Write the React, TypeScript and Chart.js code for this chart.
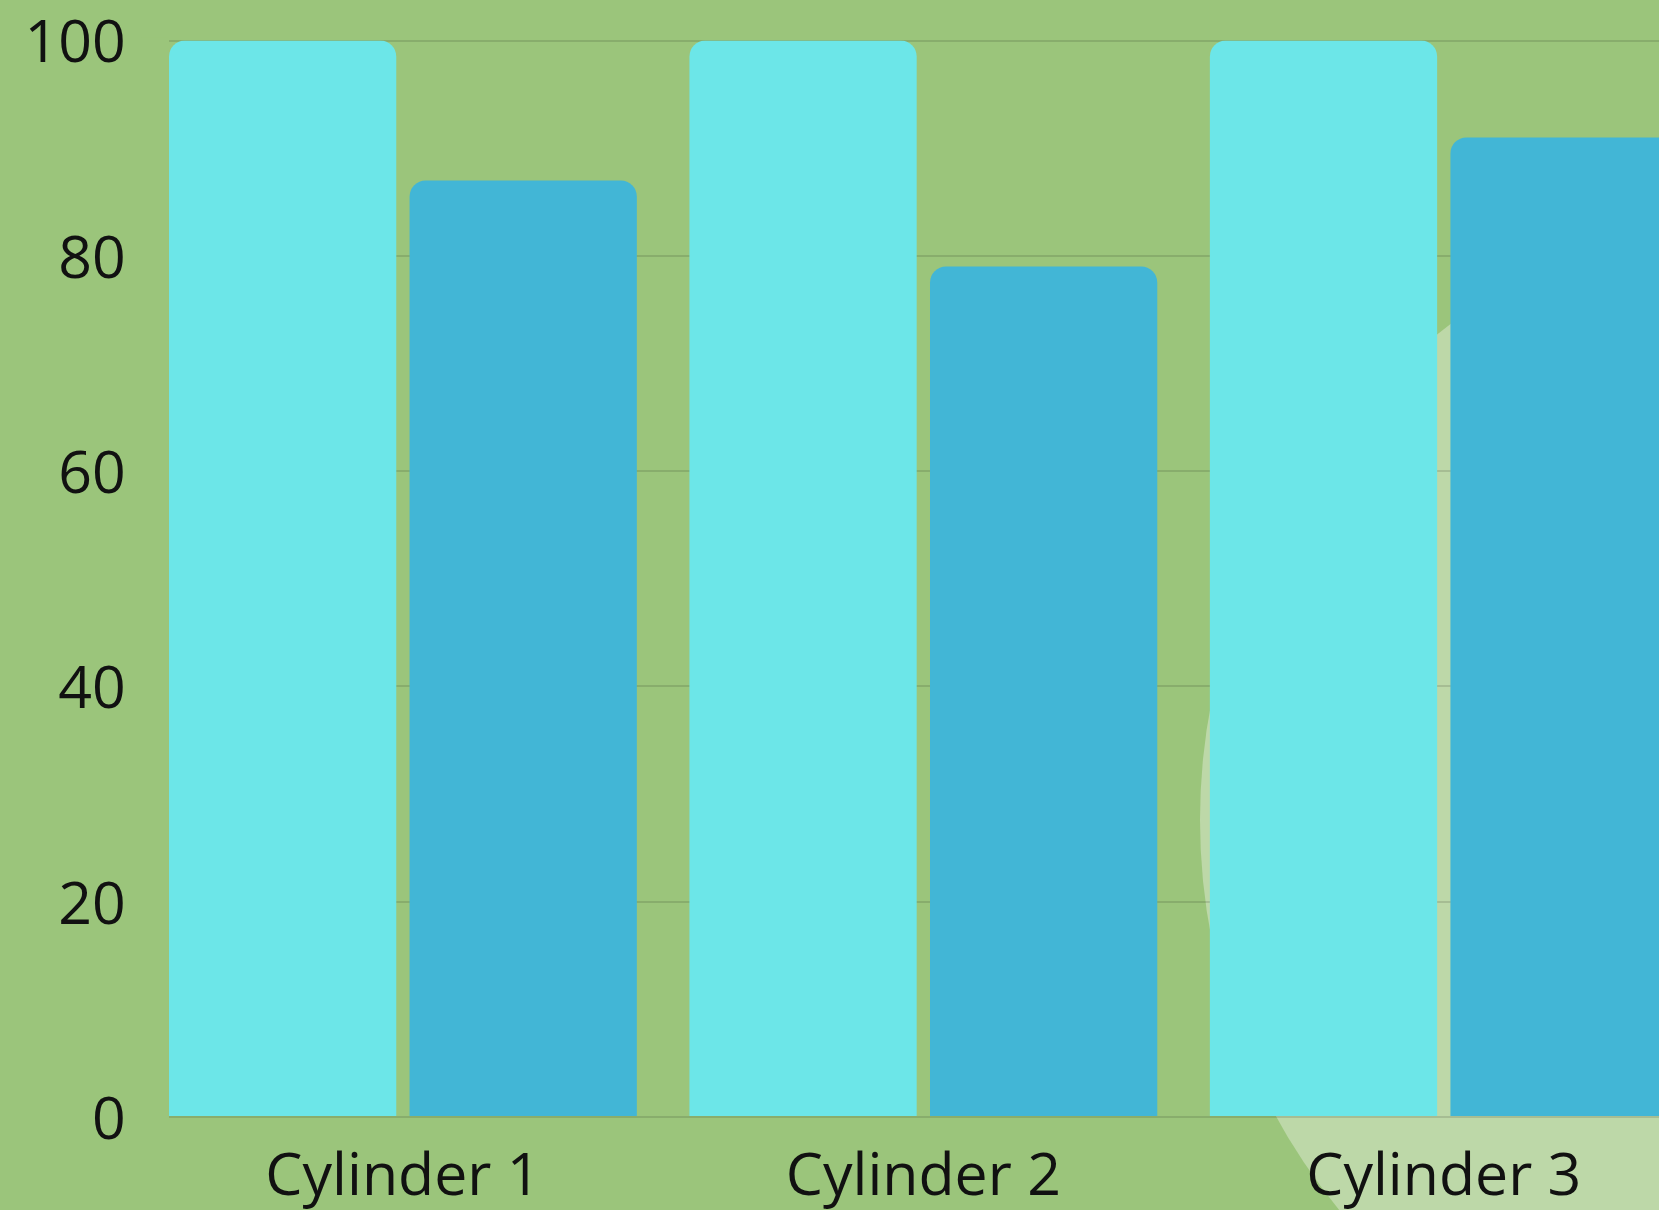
import React, { useEffect, useRef } from "react";
import { Chart, registerables } from "chart.js";

Chart.register(...registerables);

const categories = ["Cylinder 1", "Cylinder 2", "Cylinder 3"];
const capacityValues = [100, 100, 100];
const levelValues = [87, 79, 91];
const yTickValues = [0, 20, 40, 60, 80, 100];

const BG = "#9BC57B";
const CIRCLE = "#BDD8A8";
const CYAN = "#6CE6E8";
const BLUE = "#42B6D6";
const TEXT = "#111111";
const GRID = "rgba(0,0,0,0.12)";

export default function App() {
  const ref = useRef<HTMLCanvasElement>(null);

  useEffect(() => {
    const canvas = ref.current;
    if (!canvas) return;

    const leftStrip = {
      id: "leftStrip",
      beforeDatasetsDraw(chart: any) {
        const meta = chart.getDatasetMeta(0);
        const bar = meta && meta.data && meta.data[0];
        if (!bar) return;
        const p = bar.getProps(["x", "width"], true);
        const barLeft = p.x - p.width / 2;
        const { left, top, bottom } = chart.chartArea;
        const c = chart.ctx;
        c.save();
        c.fillStyle = BG;
        c.fillRect(left - 1, top - 3, barLeft - left + 1, bottom - top + 6);
        c.restore();
      },
    };

    const font = { family: "'Open Sans', sans-serif", size: 59 };

    const chart = new Chart(canvas, {
      type: "bar",
      data: {
        labels: categories,
        datasets: [
          {
            label: "Capacity",
            data: capacityValues,
            backgroundColor: CYAN,
            borderRadius: 16,
            borderWidth: 0,
          },
          {
            label: "Level",
            data: levelValues,
            backgroundColor: BLUE,
            borderRadius: 16,
            borderWidth: 0,
          },
        ],
      },
      options: {
        responsive: false,
        animation: false,
        devicePixelRatio: 1,
        layout: { padding: { top: 40.5, left: 0, right: 0, bottom: 0 } },
        plugins: {
          legend: { display: false },
          tooltip: { enabled: false },
        },
        datasets: {
          bar: { categoryPercentage: 0.9245, barPercentage: 0.9447 },
        },
        scales: {
          x: {
            grid: { display: false },
            border: { display: false },
            ticks: { font, color: TEXT, padding: 18, maxRotation: 0 },
            afterFit(scale: any) {
              scale.height = 93;
              scale.paddingLeft = 0;
              scale.paddingRight = 0;
            },
          },
          y: {
            min: 0,
            max: 100,
            grid: { color: GRID, lineWidth: 2, drawTicks: false },
            border: { display: false },
            ticks: { font, color: TEXT, padding: 17, labelOffset: 5 },
            afterBuildTicks(scale: any) {
              scale.ticks = yTickValues.map((v) => ({ value: v }));
            },
            afterFit(scale: any) {
              scale.width = 142.7;
              scale.paddingTop = 0;
              scale.paddingBottom = 0;
            },
          },
        },
      } as any,
      plugins: [leftStrip],
    });

    return () => chart.destroy();
  }, []);

  return (
    <div
      style={{
        position: "fixed",
        left: 0,
        top: 0,
        width: 1659,
        height: 1210,
        overflow: "hidden",
        background: BG,
      }}
    >
      <div
        style={{
          position: "absolute",
          left: 1200,
          top: 204,
          width: 1232,
          height: 1232,
          borderRadius: "50%",
          background: CIRCLE,
        }}
      />
      <canvas
        ref={ref}
        width={1704}
        height={1210}
        style={{ position: "absolute", left: 0, top: 0, width: 1704, height: 1210 }}
      />
    </div>
  );
}
